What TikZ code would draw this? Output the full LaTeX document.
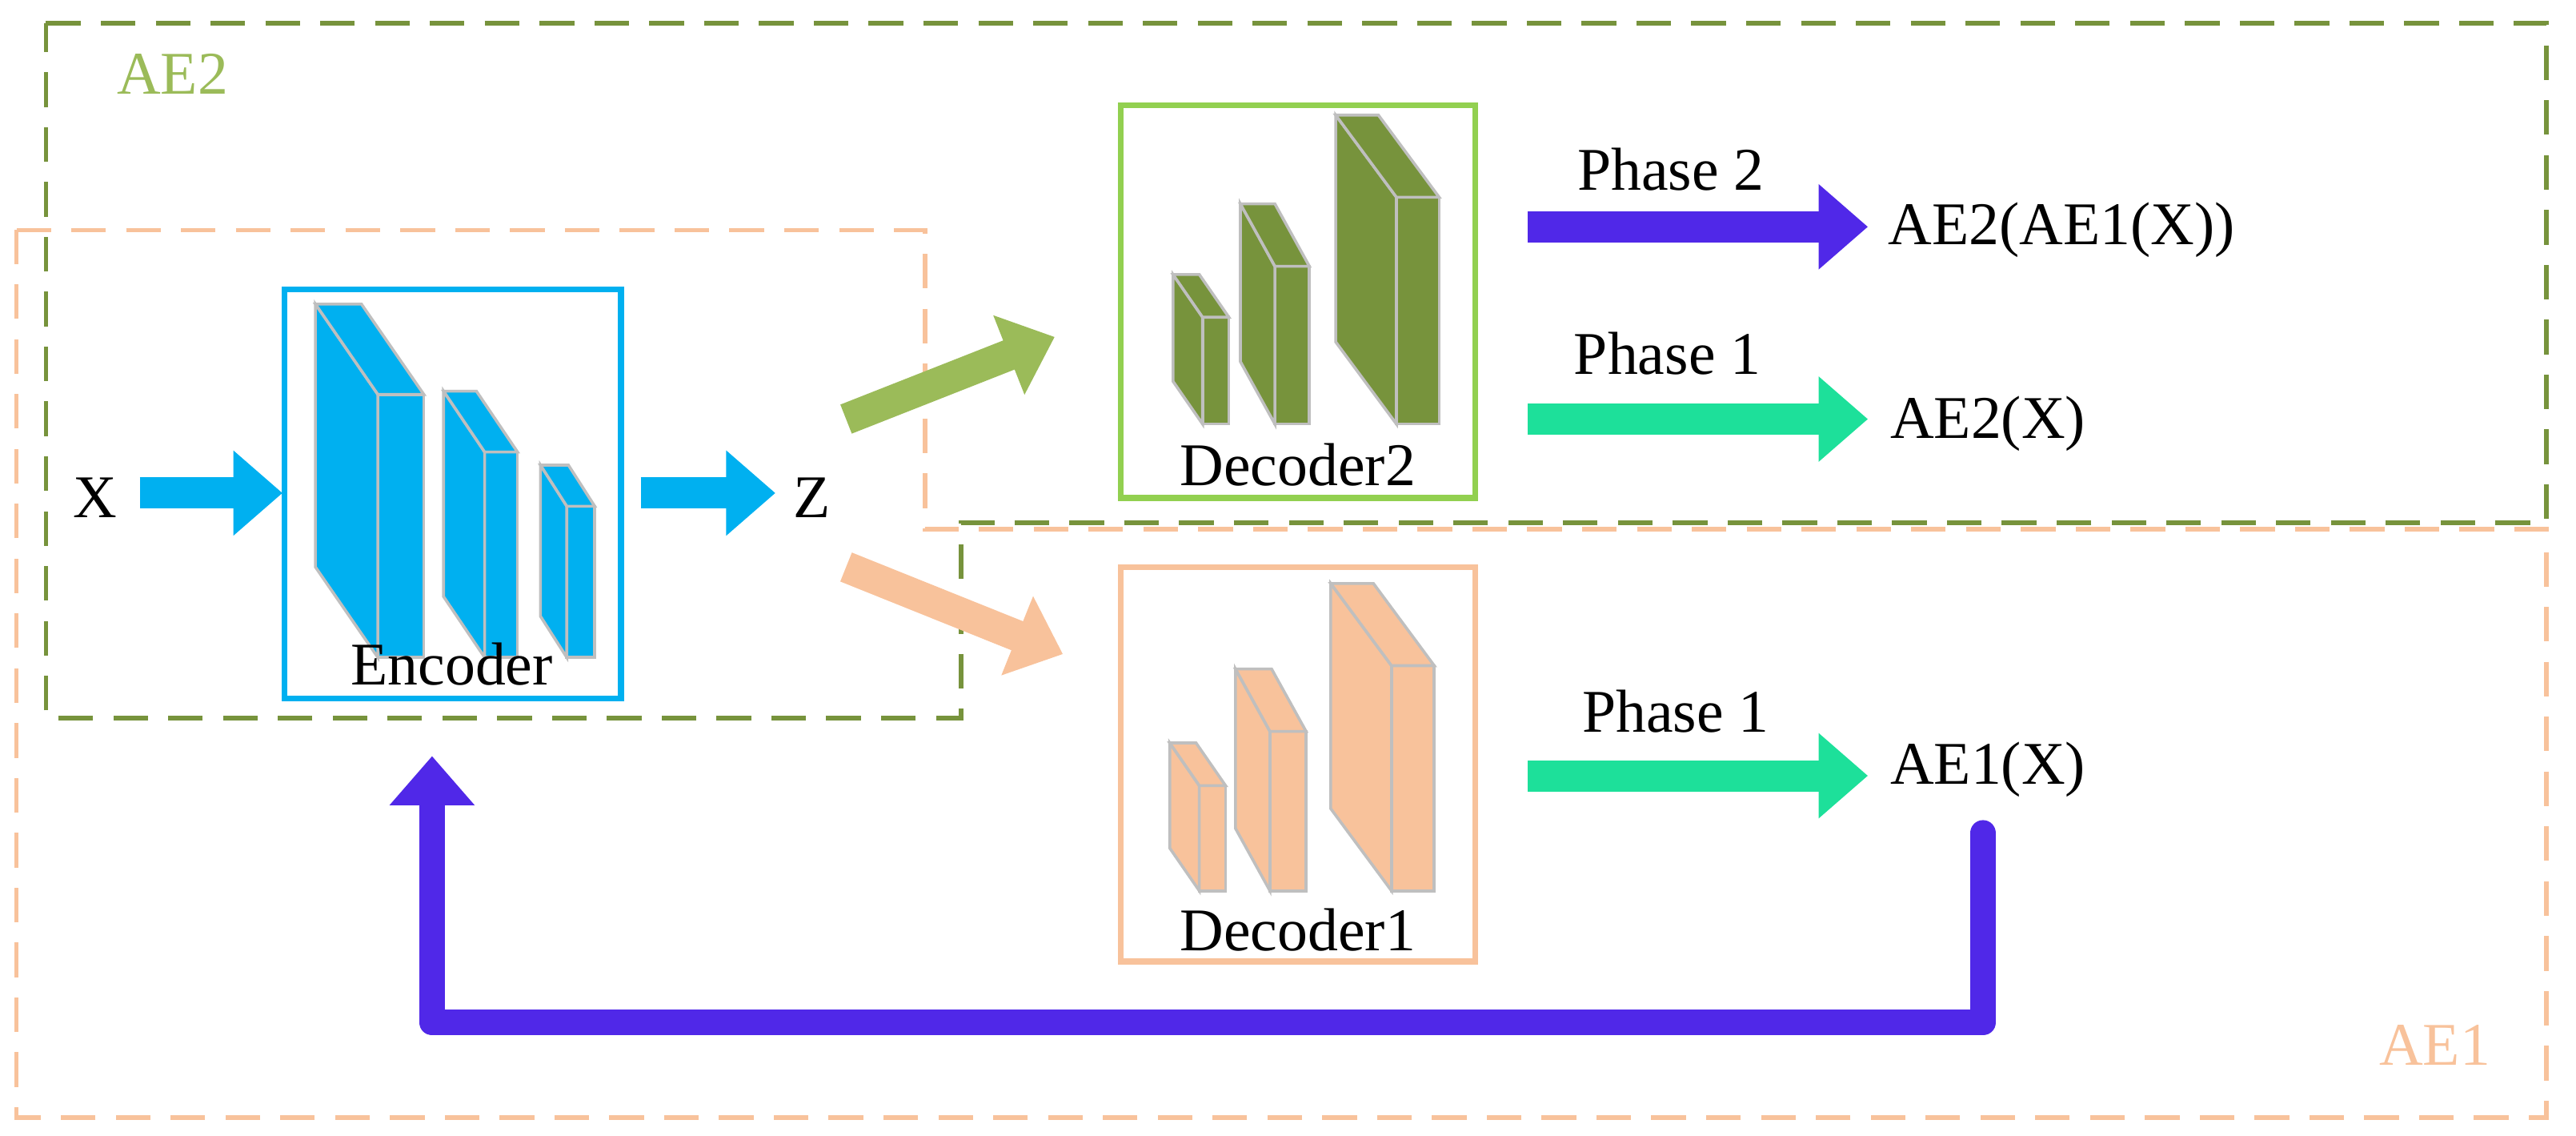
\documentclass[tikz,border=0pt]{standalone}
\usepackage{fontspec}
\setmainfont{Liberation Serif}
\usetikzlibrary{arrows.meta}
\definecolor{olive}{HTML}{77933C}
\definecolor{lgreen}{HTML}{9BBB59}
\definecolor{bgreen}{HTML}{92D050}
\definecolor{orng}{HTML}{F8C29B}
\definecolor{blu}{HTML}{00B0F0}
\definecolor{purp}{HTML}{5028E8}
\definecolor{teal2}{HTML}{1DE09A}
\tikzset{
 txt/.style={font=\fontsize{21}{24}\selectfont, inner sep=0pt},
 fat/.style={line width=0.38cm, -{Triangle[length=0.6cm,width=1.0cm]}},
 dsh/.style={dashed, line width=1.6pt, dash pattern=on 12pt off 7pt},
 box/.style={line width=2pt},
}
\newcommand{\cub}[6]{% color, x1,y1,x2,y2, dx dy in #6 as {dx}{dy}
}
\newcommand{\cuboid}[7]{%
 \fill[#1,draw=gray!50,line width=1pt] (#2,#3) -- (#4,#3) -- (#4,#5) -- (#2,#5) -- cycle;
 \fill[#1,draw=gray!50,line width=1pt] (#2,#3) -- (#2-#6,#3-#7) -- (#2-#6,#5-#7) -- (#2,#5) -- cycle;
 \fill[#1,draw=gray!50,line width=1pt] (#2,#3) -- (#2-#6,#3-#7) -- (#4-#6,#3-#7) -- (#4,#3) -- cycle;
}
\begin{document}
\begin{tikzpicture}[x=0.02cm,y=-0.02cm]
\useasboundingbox (0,0) rectangle (1568,691);
% dashed regions
\draw[dsh,orng] (10,140) -- (563,140) -- (563,322) -- (1550,322) -- (1550,680) -- (10,680) -- cycle;
\draw[dsh,olive] (28,14) -- (1550,14) -- (1550,318) -- (585,318) -- (585,437) -- (28,437) -- cycle;
\node[txt,text=lgreen] (ae2) at (105,45) {AE2};
\node[txt,text=orng] (ae1) at (1482,636) {AE1};
% boxes
\draw[box,blu] (173,176) rectangle (378,425);
\draw[box,bgreen] (682,64) rectangle (898,303);
\draw[box,orng] (682,345) rectangle (898,585);
% encoder blocks
\cuboid{blu}{230}{240}{258}{400}{38}{55}
\cuboid{blu}{295}{275}{315}{400}{25}{37}
\cuboid{blu}{345}{308}{362}{400}{16}{25}
\node[txt] (enc) at (275,404) {Encoder};
% decoder2 blocks
\cuboid{olive}{732}{193}{748}{258}{18}{26}
\cuboid{olive}{776}{162}{797}{258}{21}{38}
\cuboid{olive}{850}{120}{876}{258}{37}{50}
\node[txt] (dec2) at (790,283) {Decoder2};
% decoder1 blocks
\cuboid{orng}{730}{478}{746}{542}{18}{26}
\cuboid{orng}{773}{445}{795}{542}{21}{38}
\cuboid{orng}{847}{405}{873}{542}{37}{50}
\node[txt] (dec1) at (790,566) {Decoder1};
% inputs
\node[txt] (x) at (58,303) {X};
\node[txt] (z) at (494,303) {Z};
\coordinate (a1) at (85,300); \coordinate (a2) at (172,300);
\coordinate (b1) at (390,300); \coordinate (b2) at (472,300);
\coordinate (c1) at (515,255); \coordinate (c2) at (642,205);
\coordinate (d1) at (515,345); \coordinate (d2) at (647,398);
\draw[fat,blu] (a1) -- (a2);
\draw[fat,blu] (b1) -- (b2);
\draw[fat,lgreen] (c1) -- (c2);
\draw[fat,orng] (d1) -- (d2);
% phases
\node[txt] (p2) at (1017,103) {Phase 2};
\node[txt] (p1a) at (1015,215) {Phase 1};
\node[txt] (p1b) at (1020,433) {Phase 1};
\node[txt] (o1) at (1255,140) {AE2(AE1(X))};
\node[txt] (o2) at (1210,258) {AE2(X)};
\node[txt] (o3) at (1210,468) {AE1(X)};
\coordinate (e1) at (930,138); \coordinate (e2) at (1137,138);
\coordinate (f1) at (930,255); \coordinate (f2) at (1137,255);
\coordinate (g1) at (930,472); \coordinate (g2) at (1137,472);
\draw[fat,purp] (e1) -- (e2);
\draw[fat,teal2] (f1) -- (f2);
\draw[fat,teal2] (g1) -- (g2);
% feedback
\coordinate (h1) at (1207,507); \coordinate (h2) at (1207,622);
\coordinate (h3) at (263,622); \coordinate (h4) at (263,460);
\draw[purp,line width=0.32cm,line cap=round,line join=round] (h1) -- (h2) -- (h3) -- ([yshift=-20]h4);
\draw[purp,line width=0.32cm,-{Triangle[length=0.6cm,width=1.0cm]}] ([yshift=-30]h4) -- (h4);
\end{tikzpicture}
\end{document}
